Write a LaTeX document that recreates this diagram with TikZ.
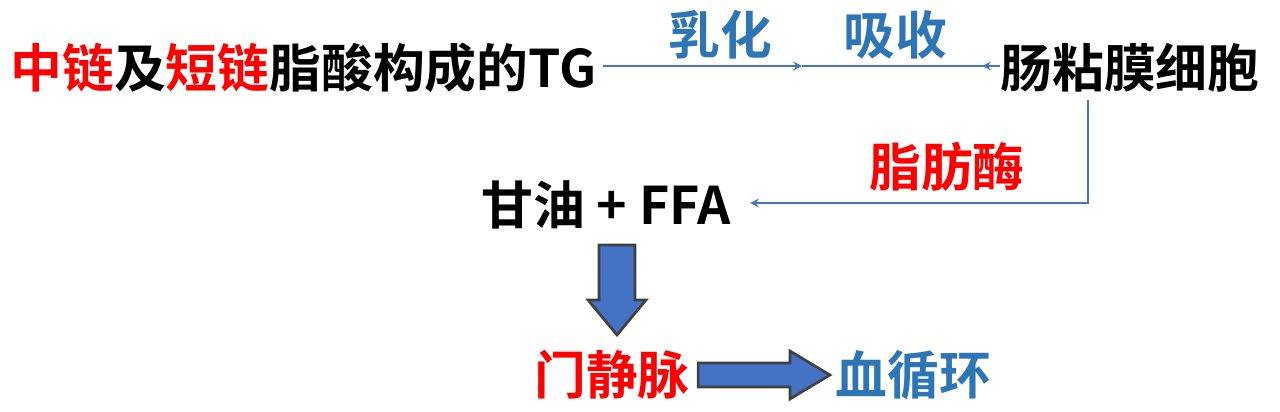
\documentclass[tikz,border=0pt]{standalone}
\usepackage{fontspec}
\setmainfont{Noto Sans CJK SC}[BoldFont={* Bold}]
\usetikzlibrary{positioning,arrows,calc}
\definecolor{lblue}{HTML}{4472C4}
\definecolor{tblue}{HTML}{2E75B6}
\definecolor{tred}{HTML}{FF0000}
\tikzset{
  txt/.style = {inner sep=0pt, font=\fontsize{29.5}{32}\selectfont\bfseries},
  lbl/.style = {txt, text=tblue},
  arrow/.style = {line width=1.2pt, draw=lblue, ->, >=stealth},
  fat/.style = {draw=black!75, fill=lblue, line width=1.5pt}
}
\begin{document}
\begin{tikzpicture}[x=0.02cm,y=0.02cm]
\useasboundingbox (0,0) rectangle (1280,412);
% top row
\node (tg) [txt, anchor=west] at (10,344) {\textcolor{tred}{中链}及\textcolor{tred}{短链}脂酸构成的TG};
\node (cell) [txt, anchor=west] at (1000,344) {肠粘膜细胞};
\coordinate (mid) at (802,346);
\draw [arrow] (tg.east) ++(6,2) -- (mid);
\draw [arrow] (mid) -- (cell.west |- mid) -- ++(-18,0);
\node (emul) [lbl] at (720,377) {乳化};
\node (abs) [lbl] at (895,377) {吸收};
% lipase
\node (ffa) [txt] at (606,207) {甘油 + FFA};
\draw [arrow] (1088,312) |- (750,209);
\node (lip) [txt, text=tred] at (947,245) {脂肪酶};
% bottom
\draw [fat] (599,167) -- (635,167) -- (635,112) -- (646,112) -- (617,77)
  -- (588,112) -- (599,112) -- cycle;
\node (vein) [txt, text=tred] at (612,37) {门静脉};
\node (blood) [txt, text=tblue, anchor=west] at (835,37) {血循环};
\draw [fat] ($(vein.east)+(8,12)$) -- (790,49) -- (790,61) -- (830,37)
  -- (790,13) -- (790,25) -- ($(vein.east)+(8,-12)$) -- cycle;
\end{tikzpicture}
\end{document}
